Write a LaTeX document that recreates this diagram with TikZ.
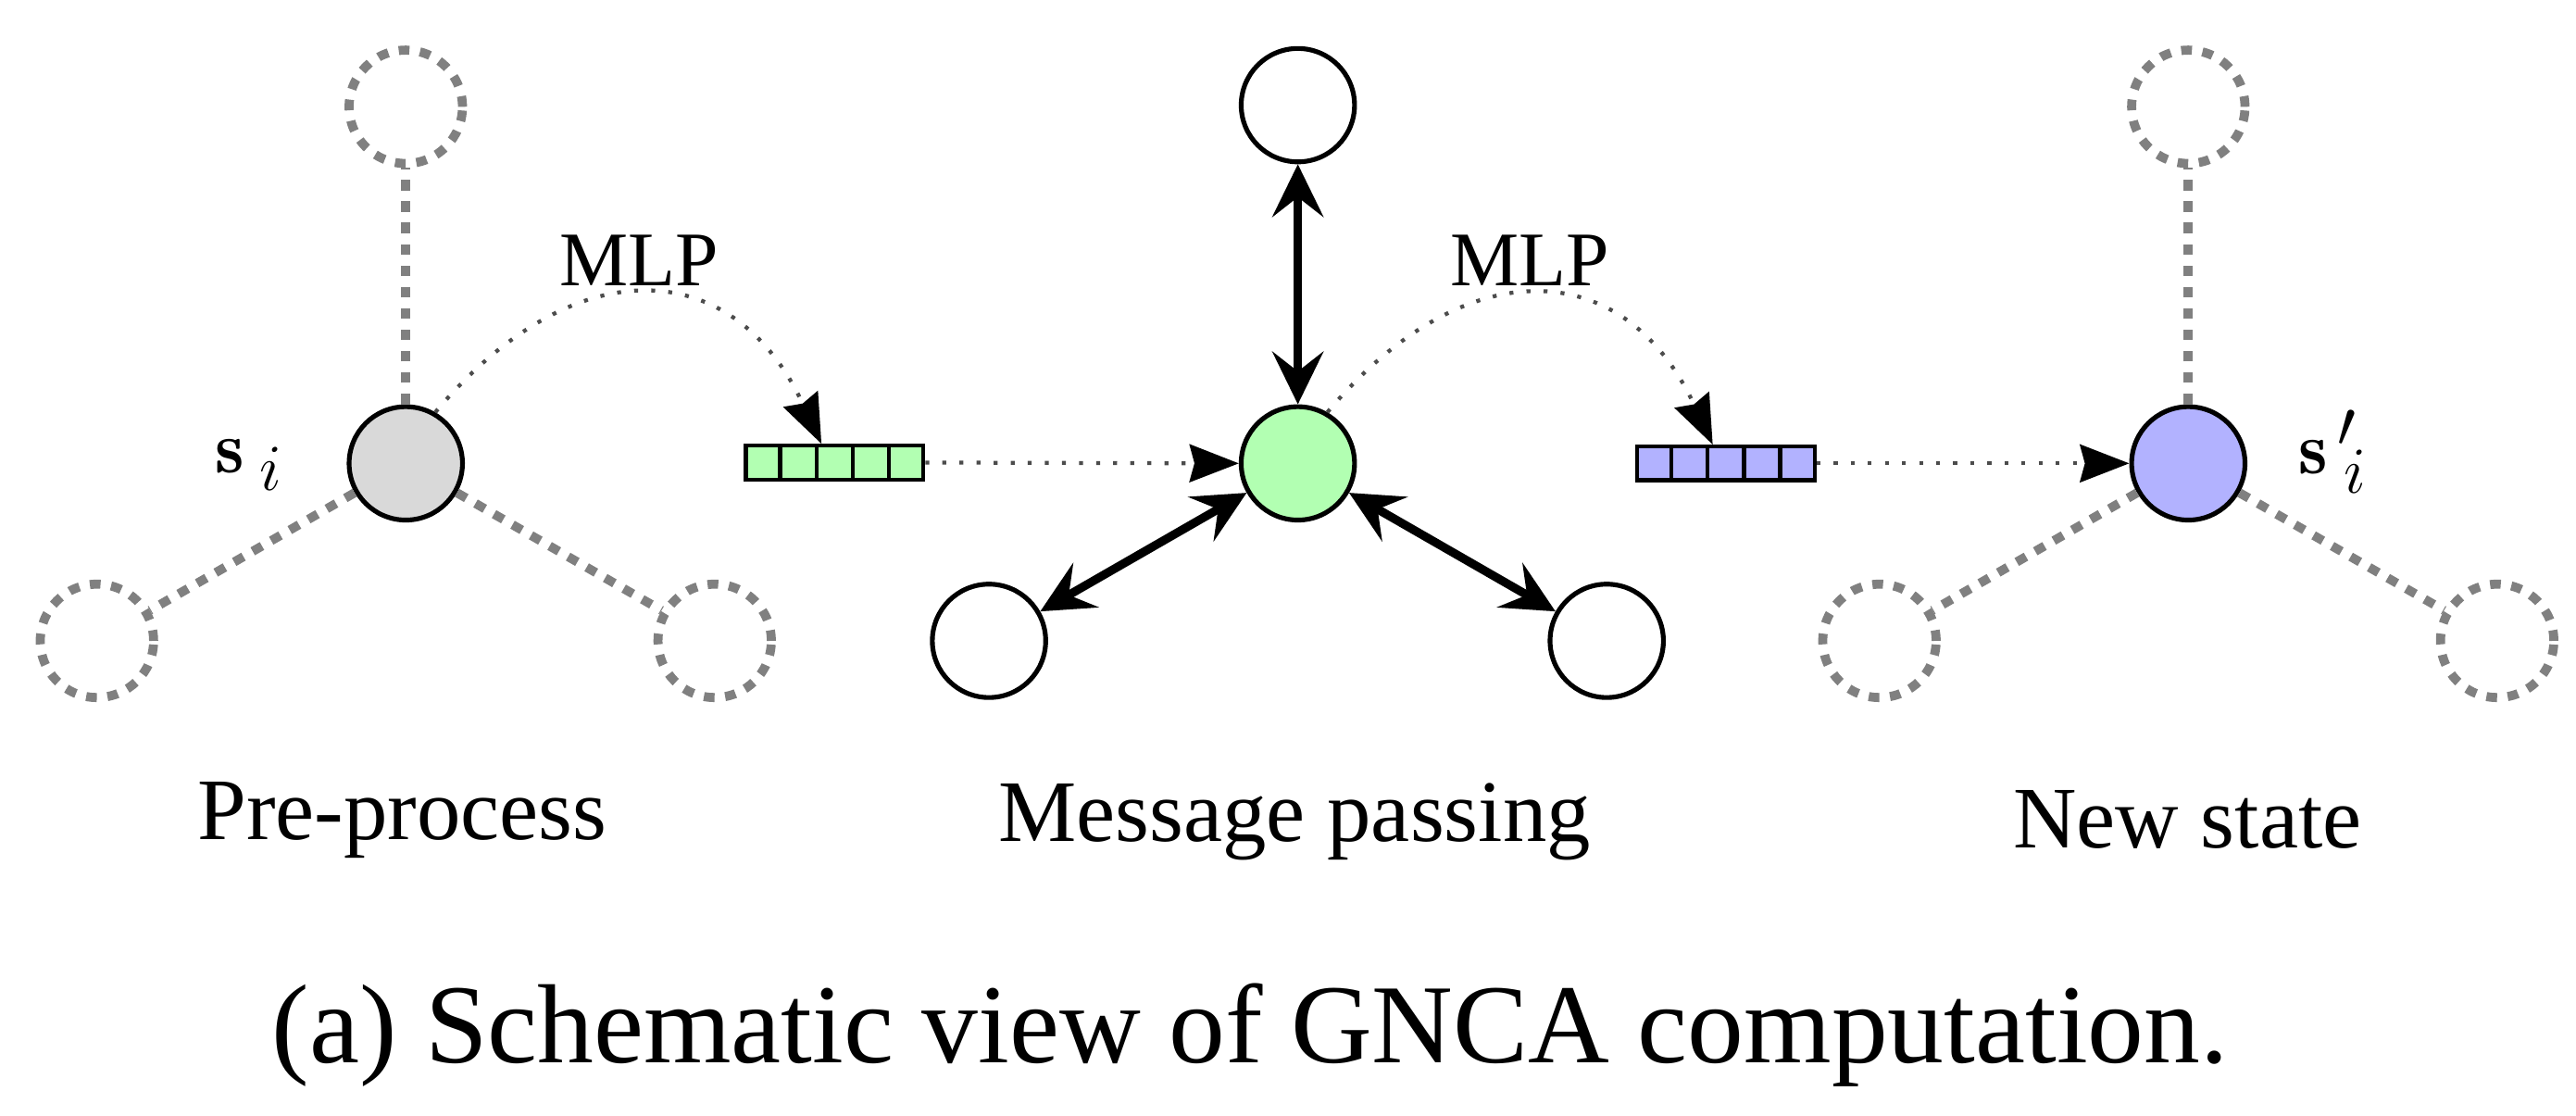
\RequirePackage{fix-cm}
\documentclass[tikz,border=0pt]{standalone}
\usepackage{fontspec}
\newfontfamily\tms{Liberation Serif}
\usetikzlibrary{arrows.meta,calc}
\DeclareMathSizes{45}{45}{40}{30}
\tikzset{
 cell/.style={circle,draw,line width=2.9pt,minimum size=69pt,inner sep=0pt},
 ghost/.style={circle,draw=gray,line width=5.5pt,dash pattern=on 6.5pt off 6.5pt,minimum size=69pt,inner sep=0pt},
 ghostline/.style={draw=gray,line width=5.5pt,dash pattern=on 6.5pt off 6.5pt},
 bidir/.style={line width=5.2pt,{Stealth[length=32pt 0 0,width=31pt 0,inset=12pt 0]}-{Stealth[length=32pt 0 0,width=31pt 0,inset=12pt 0]}},
 dotarrow/.style={draw=black!70,line width=2.4pt,dash pattern=on 2.4pt off 8pt,-{Stealth[length=30pt 0 0,width=23pt 0,inset=3pt 0,black]}},
 vecbox/.style={rectangle,draw,line width=2.4pt,minimum width=108pt,minimum height=20.5pt,inner sep=0pt},
 lbl/.style={font=\tms\fontsize{53.4}{60}\selectfont,anchor=base,inner sep=0pt},
 mlp/.style={font=\tms\fontsize{47}{50}\selectfont,anchor=base,inner sep=0pt},
 mathlbl/.style={font=\fontsize{45}{50}\selectfont,inner sep=0pt},
}
\begin{document}
\begin{tikzpicture}[x=1pt,y=1pt]
\useasboundingbox (0,0) rectangle (1568,-679);
% --- pre-process ---
\node[cell,fill=gray!30] (G) at (247,-282) {};
\node[ghost] (G1) at (247,-65) {};
\node[ghost] (G2) at (59,-390) {};
\node[ghost] (G3) at (435,-390) {};
\draw[ghostline] (G) -- (G1);
\draw[ghostline] (G) -- (G2);
\draw[ghostline] (G) -- (G3);
\node[mathlbl,anchor=base west] (si) at (131,-287.5) {$\mathbf{s}_{\kern9pt i}$};
\node[vecbox,fill=green!30] (gv) at (508,-281.5) {};
\foreach \k in {1,2,3,4}
  \draw[line width=2.4pt] ($(gv.south west)!\k/5!(gv.south east)$) -- ($(gv.north west)!\k/5!(gv.north east)$);
\coordinate (gt) at ([xshift=-8pt]gv.north);
\draw[dotarrow] (G.60) to[out=50,in=115,looseness=1.4] (gt);
\node[mlp] (mlp1) at (389,-174) {MLP};
% --- message passing ---
\node[cell,fill=green!30] (M) at (790,-282) {};
\node[cell] (T) at (790,-64) {};
\node[cell] (L) at (602,-390) {};
\node[cell] (R) at (978,-390) {};
\draw[bidir] (T) -- (M);
\draw[bidir] (L) -- (M);
\draw[bidir] (R) -- (M);
\draw[dotarrow] (gv.east) -- (M.west);
\node[vecbox,fill=blue!30] (bv) at (1050.5,-282) {};
\foreach \k in {1,2,3,4}
  \draw[line width=2.4pt] ($(bv.south west)!\k/5!(bv.south east)$) -- ($(bv.north west)!\k/5!(bv.north east)$);
\coordinate (bt) at ([xshift=-8pt]bv.north);
\draw[dotarrow] (M.60) to[out=50,in=115,looseness=1.4] (bt);
\node[mlp] (mlp2) at (931,-174) {MLP};
% --- new state ---
\node[cell,fill=blue!30] (B) at (1332,-282) {};
\node[ghost] (B1) at (1332,-65) {};
\node[ghost] (B2) at (1144,-390) {};
\node[ghost] (B3) at (1520,-390) {};
\draw[ghostline] (B) -- (B1);
\draw[ghostline] (B) -- (B2);
\draw[ghostline] (B) -- (B3);
\draw[dotarrow] (bv.east) -- (B.west);
\node[mathlbl,anchor=base west] (sp) at (1399,-288.4) {$\mathbf{s}^{\kern6pt\prime}_{\kern10pt i}$};
% --- labels ---
\node[lbl] (l1) at (245,-510.7) {Pre-process};
\node[lbl] (l2) at (788,-512) {Message passing};
\node[lbl] (l3) at (1331.5,-516) {New state};
\node[font=\tms\fontsize{68.5}{75}\selectfont,anchor=base,inner sep=0pt] (cap) at (761,-647) {(a) Schematic view of GNCA computation.};
\end{tikzpicture}
\end{document}
